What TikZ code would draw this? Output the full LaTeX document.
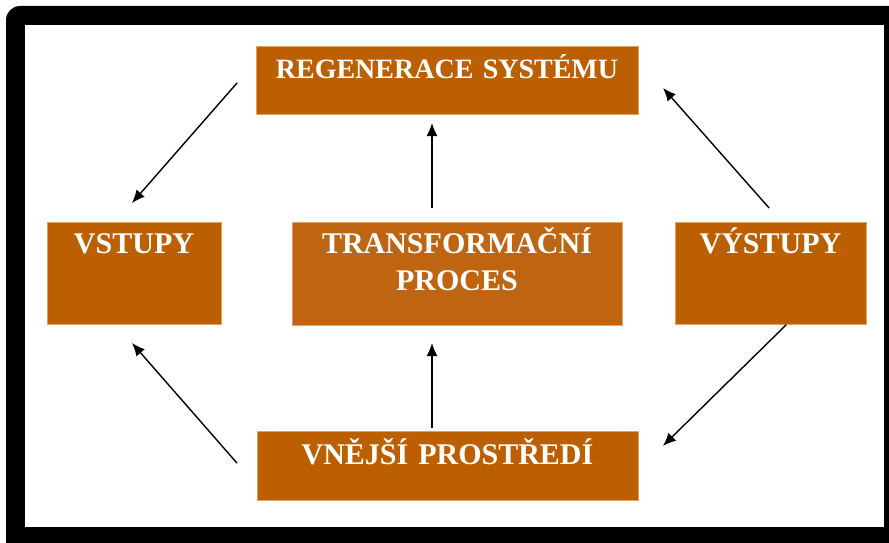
\documentclass[tikz,border=0pt]{standalone}
\usepackage{fontspec}
\setmainfont{Liberation Serif}
\usetikzlibrary{arrows.meta}
\definecolor{boxfill}{HTML}{BB5F00}
\definecolor{procfill}{HTML}{BF6512}
\definecolor{boxline}{HTML}{E5A060}
\tikzstyle{arrow} = [line width=1.4pt,-{Latex[length=13pt,width=11pt]}]
\tikzset{block/.style={rectangle,draw=boxline,fill=boxfill,line width=0.8pt,inner sep=0pt,outer sep=0pt,align=center,text=white,font=\fontsize{30}{37}\selectfont\bfseries}}

\begin{document}
\begin{tikzpicture}[x=1pt,y=-1pt]
    \useasboundingbox (0,0) rectangle (889,543);
    \fill[white] (0,0) rectangle (889,543);
    \fill[black, rounded corners=14pt] (6,6) rectangle (905,560); % frame
    \fill[white] (25,25) rectangle (884,527);

    \node [block, font=\fontsize{28}{34}\selectfont\bfseries, text width=382pt, text height=32pt, text depth=36pt] (regen) at (447,80) {REGENERACE SYSTÉMU};
    \node [block, text width=174pt, text height=31pt, text depth=71pt] (vstupy) at (134,273) {VSTUPY};
    \node [block, fill=procfill, text width=330pt, text height=31pt, text depth=72pt] (transf) at (457,273.5) {TRANSFORMAČNÍ\\PROCES};
    \node [block, text width=191pt, text height=31pt, text depth=71pt] (vystupy) at (770.5,273) {VÝSTUPY};
    \node [block, text width=381pt, text height=33pt, text depth=36pt] (vnejsi) at (447.5,465.5) {VNĚJŠÍ PROSTŘEDÍ};

    \draw [arrow, shorten <=28.8pt, shorten >=25.2pt] ([yshift=18.7pt]regen.west) -- ([xshift=-18.6pt]vstupy.north);
    \draw [arrow, shorten <=14pt, shorten >=9pt] ([xshift=-25pt]transf.north) -- ([xshift=-25pt]transf.north |- regen.south);
    \draw [arrow, shorten <=18.7pt, shorten >=37.8pt] ([xshift=11pt]vystupy.north) -- ([yshift=20.3pt]regen.east);
    \draw [arrow, shorten <=1pt, shorten >=34.9pt] ([xshift=16.5pt]vystupy.south) -- ([yshift=-4.9pt]vnejsi.east);
    \draw [arrow, shorten <=3pt, shorten >=18pt] ([xshift=-25pt]transf.south |- vnejsi.north) -- ([xshift=-25pt]transf.south);
    \draw [arrow, shorten <=30.4pt, shorten >=25.2pt] ([yshift=-20.5pt]vnejsi.west) -- ([xshift=-18.6pt]vstupy.south);
\end{tikzpicture}
\end{document}
